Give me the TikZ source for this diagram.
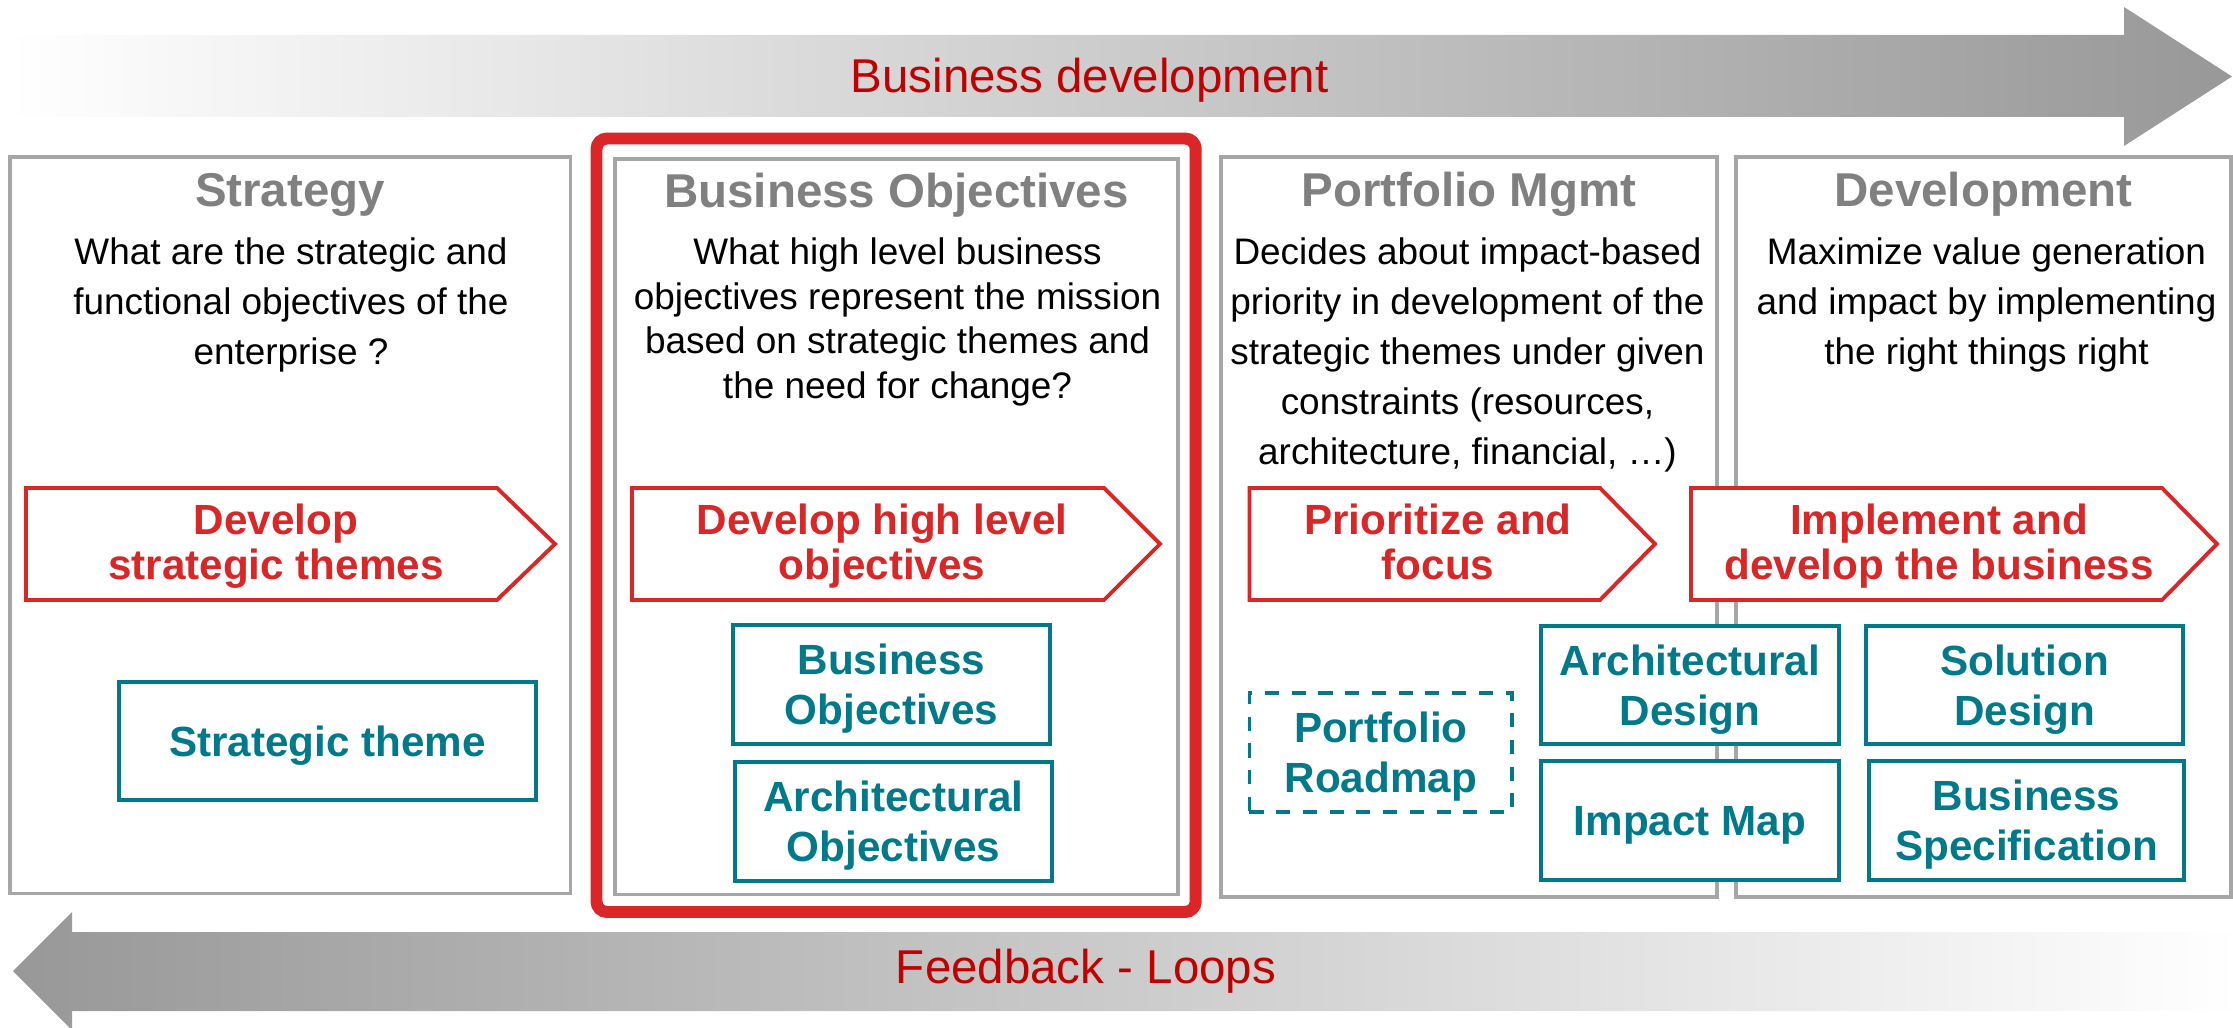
\documentclass[tikz,border=0pt]{standalone}
\usepackage{fontspec}
\setmainfont{Liberation Sans}
\definecolor{frameGray}{HTML}{A6A6A6}
\definecolor{titleGray}{HTML}{808080}
\definecolor{accRed}{HTML}{DA2626}
\definecolor{barRed}{HTML}{C00000}
\definecolor{tealC}{HTML}{007A8A}
\definecolor{arrowGray}{HTML}{989898}
\newcommand\topS{\rule{0pt}{0.93em}}
\newcommand\botS{\rule[-0.21em]{0pt}{0.21em}}
\begin{document}
\begin{tikzpicture}[x=0.01cm,y=-0.01cm,
  frame/.style={draw=frameGray,line width=1.1pt},
  title/.style={font=\fontsize{13.5}{16}\selectfont\bfseries,text=titleGray,anchor=base,inner sep=0},
  question/.style={font=\fontsize{10.5}{14.2}\selectfont,align=center,anchor=north,inner sep=0},
  penta/.style={draw=accRed,line width=1.1pt,fill=white},
  pentatext/.style={font=\fontsize{12}{12.8}\selectfont\bfseries,text=accRed,align=center,inner sep=0},
  tealbox/.style={draw=tealC,line width=1.1pt,fill=white,font=\fontsize{12}{14.3}\selectfont\bfseries,text=tealC,align=center,inner sep=0},
  bartext/.style={font=\fontsize{13.5}{16}\selectfont,text=barRed,anchor=base,inner sep=0}]

\useasboundingbox (0,0) rectangle (2233,1028);

% top arrow
\shade[left color=white,right color=arrowGray] (7,35) -- (2124,35) -- (2124,7) -- (2232,76.5) -- (2124,146) -- (2124,117) -- (7,117) -- cycle;
\node[bartext] (bizdev) at (1089.5,93) {Business development};

% bottom arrow
\shade[left color=arrowGray,right color=white] (13,971) -- (72,912) -- (72,932) -- (2240,932) -- (2240,1011) -- (72,1011) -- (72,1030) -- cycle;
\node[bartext] (feedback) at (1086,983) {Feedback - Loops};

% frames
\draw[frame] (10,157) rectangle (570.5,893.5);
\draw[frame] (615,159) rectangle (1178,894.5);
\draw[frame] (1221,157) rectangle (1717,897);
\draw[frame] (1736,157) rectangle (2231,897);

% highlight
\draw[accRed,line width=3.4pt,rounded corners=3pt] (596.5,138.5) rectangle (1195.7,912);

% titles
\node[title] (t1) at (290,207) {Strategy};
\node[title] (t2) at (896.5,207.5) {Business Objectives};
\node[title] (t3) at (1469,207) {Portfolio Mgmt};
\node[title] (t4) at (1983.5,207) {Development};

% questions
\node[question] (q1) at (291,237) {What are the strategic and\\functional objectives of the\\enterprise ?};
\node[question,font=\fontsize{10.5}{12.7}\selectfont] (q2) at (897.5,237) {What high level business\\objectives represent the mission\\based on strategic themes and\\the need for change?};
\node[question] (q3) at (1467.5,237) {Decides about impact-based\\priority in development of the\\strategic themes under given\\constraints (resources,\\architecture, financial, …)};
\node[question] (q4) at (1986.5,237) {Maximize value generation\\and impact by implementing\\the right things right};

% pentagons
\draw[penta] (26,488) -- (497,488) -- (555,544) -- (497,600) -- (26,600) -- cycle;
\node[pentatext] (p1) at (276,542) {\topS Develop\\strategic themes\botS};
\draw[penta] (632,488) -- (1104,488) -- (1160,544) -- (1104,600) -- (632,600) -- cycle;
\node[pentatext] (p2) at (882,542) {\topS Develop high level\\objectives\botS};
\draw[penta] (1249.5,488) -- (1600,488) -- (1655,544) -- (1600,600) -- (1249.5,600) -- cycle;
\node[pentatext] (p3) at (1438,542) {\topS Prioritize and\\focus\botS};
\draw[penta] (1691,488) -- (2162,488) -- (2217,544) -- (2162,600) -- (1691,600) -- cycle;
\node[pentatext] (p4) at (1939,542) {\topS Implement and\\develop the business\botS};

% artefact boxes
\node[tealbox,minimum width=4.17cm,minimum height=1.18cm] (st) at (327.5,741) {\topS Strategic theme\botS};
\node[tealbox,minimum width=3.17cm,minimum height=1.19cm] (bo) at (891.5,684.5) {\topS Business\\Objectives\botS};
\node[tealbox,minimum width=3.17cm,minimum height=1.19cm] (ao) at (893.5,821.5) {\topS Architectural\\Objectives\botS};
\node[tealbox,dash pattern=on 4pt off 3.6pt,minimum width=2.625cm,minimum height=1.19cm] (pr) at (1380.75,752.5) {\topS Portfolio\\Roadmap\botS};
\node[tealbox,minimum width=2.98cm,minimum height=1.18cm] (ad) at (1690,685) {\topS Architectural\\Design\botS};
\node[tealbox,minimum width=2.98cm,minimum height=1.19cm] (im) at (1690,820.5) {\topS Impact Map\botS};
\node[tealbox,minimum width=3.17cm,minimum height=1.18cm] (sd) at (2024.5,685) {\topS Solution\\Design\botS};
\node[tealbox,minimum width=3.15cm,minimum height=1.19cm] (bs) at (2026.5,820.5) {\topS Business\\Specification\botS};
\end{tikzpicture}
\end{document}
